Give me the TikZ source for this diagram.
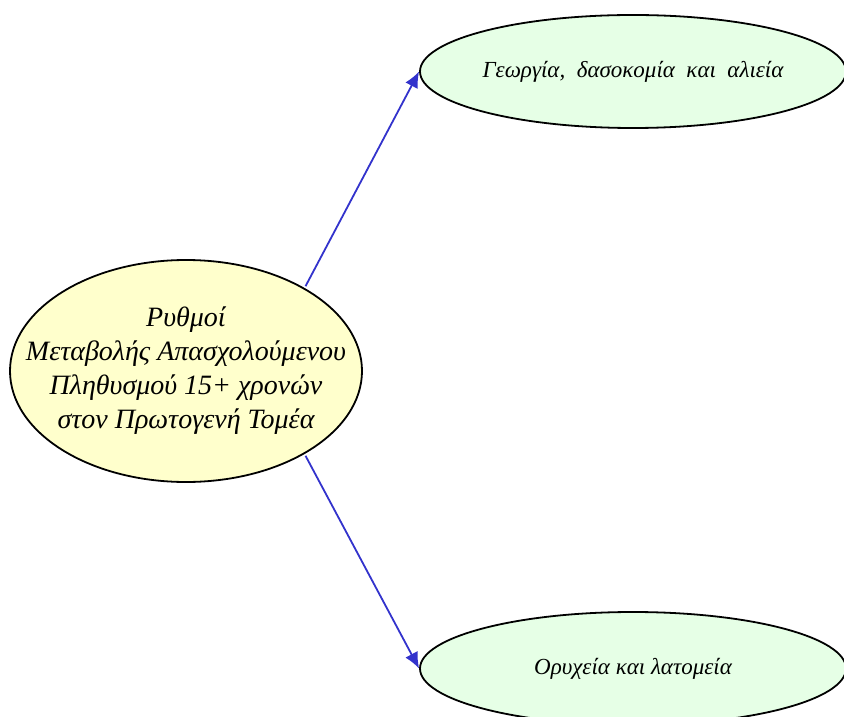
\documentclass[tikz,border=0pt]{standalone}
\usepackage{fontspec}
\setmainfont{Liberation Serif}
\usetikzlibrary{arrows.meta,shapes.geometric}
\definecolor{rootfill}{RGB}{255,255,204}
\definecolor{leaffill}{RGB}{230,255,230}
\definecolor{linkblue}{RGB}{51,51,204}
\tikzset{
  topic/.style={draw, ellipse, line width=0.9pt, fill=rootfill, inner sep=0pt,
    minimum width=176pt, minimum height=111pt},
  topictext/.style={align=center, inner sep=0pt, font=\fontsize{14}{17}\selectfont\itshape},
  leaf/.style={draw, ellipse, line width=0.9pt, fill=leaffill, inner sep=0pt,
    minimum width=213pt, minimum height=56.5pt,
    font=\fontsize{11.5}{14}\selectfont\itshape},
  link/.style={draw=linkblue, line width=0.9pt, -{Latex[length=8pt,width=7pt]}, shorten <=1pt}
}
\begin{document}
\begin{tikzpicture}[x=0.5pt, y=-0.5pt]
\useasboundingbox (0,0) rectangle (844,716);
\clip (0,0) rectangle (844,716);
\node[topic] (root) at (186,371) {};
\node[topictext] (roottext) at (root.center) {Ρυθμοί\\ Μεταβολής Απασχολούμενου\\ Πληθυσμού 15+ χρονών\\ στον Πρωτογενή Τομέα};
\node[leaf] (agri) at (633,71.5) {Γεωργία, \ δασοκομία \ και \ αλιεία};
\node[leaf] (mine) at (633,668.5) {Ορυχεία και λατομεία};
\draw[link] (root.35) -- (agri.west);
\draw[link] (root.-35) -- (mine.west);
\end{tikzpicture}
\end{document}
